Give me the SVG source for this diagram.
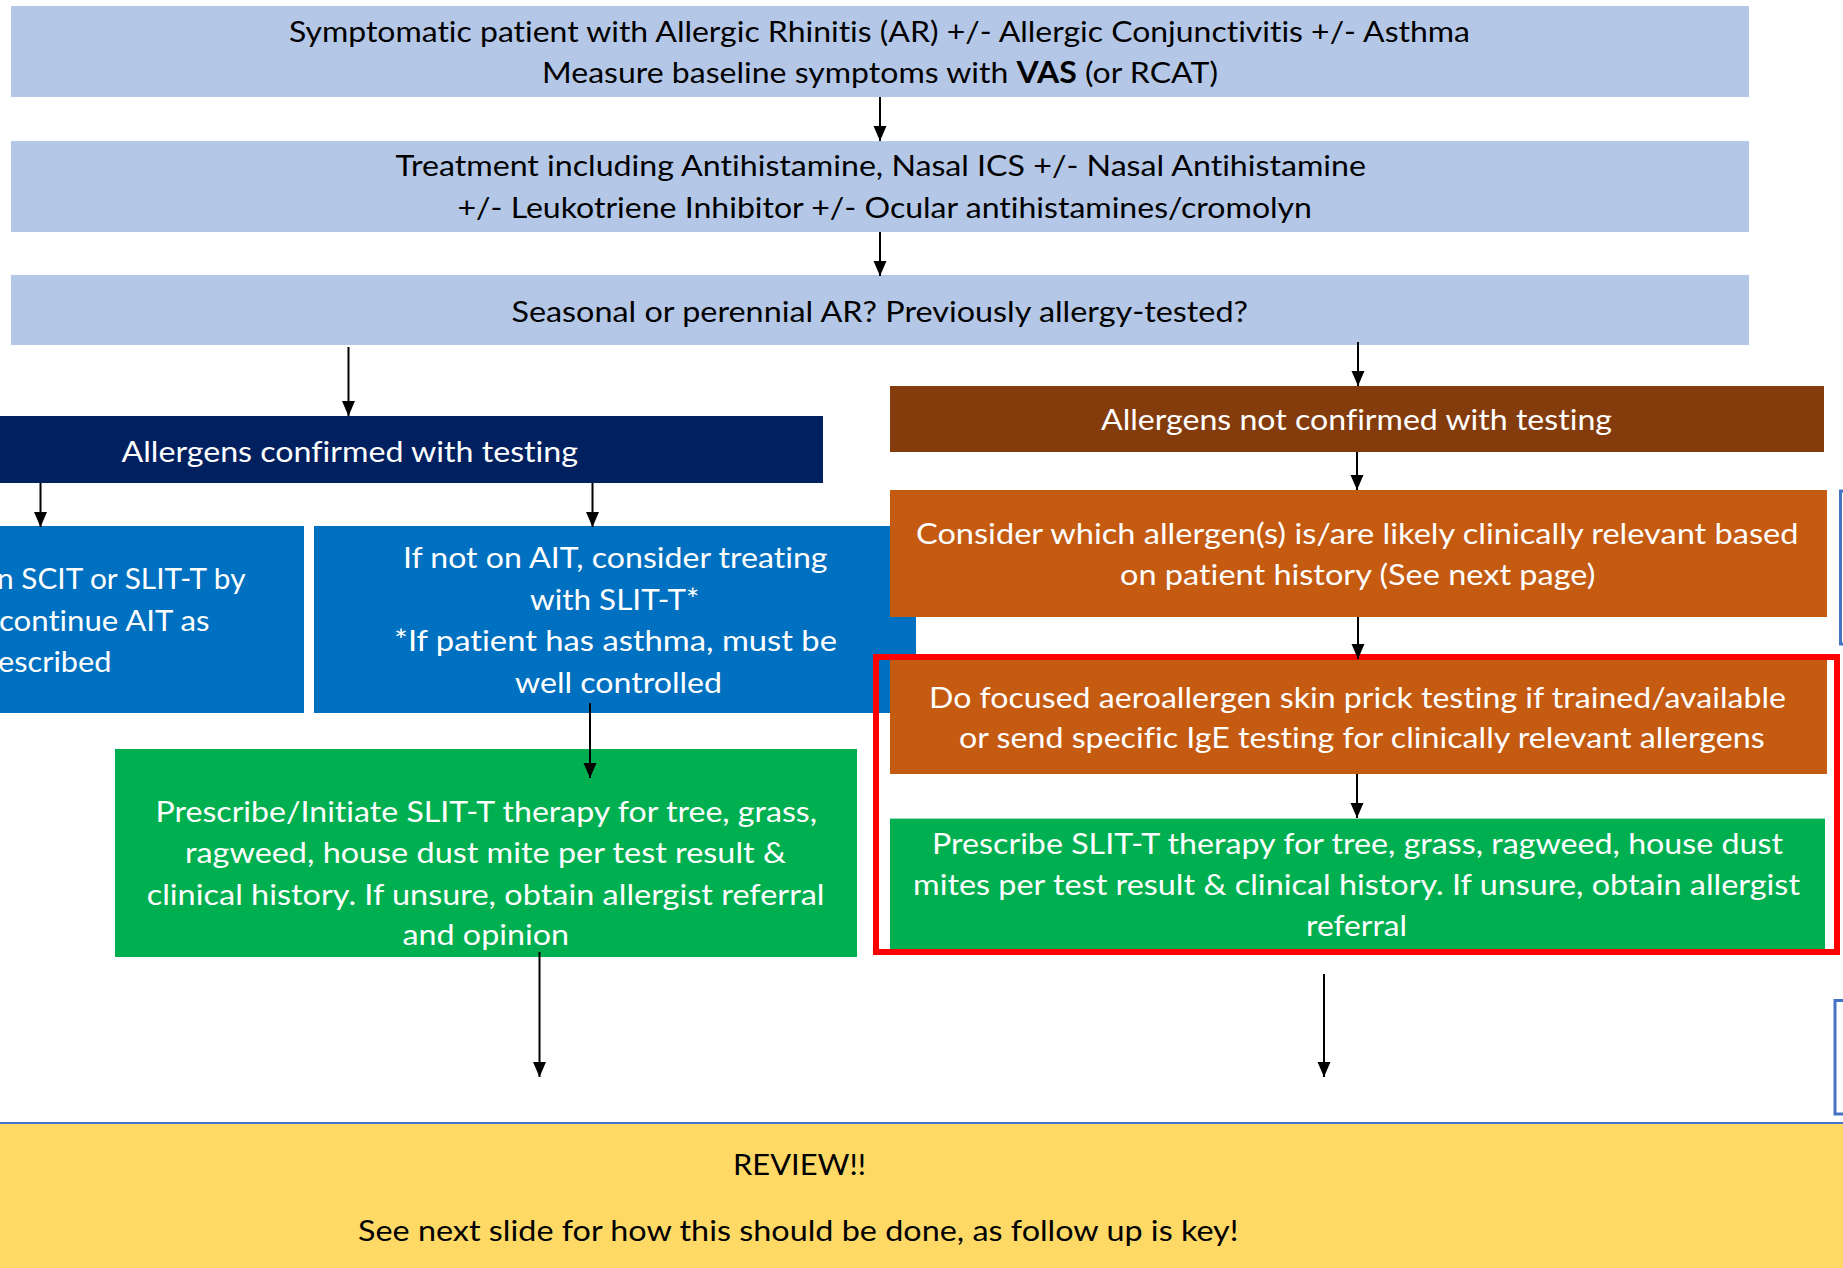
<svg xmlns="http://www.w3.org/2000/svg" width="1843" height="1268" viewBox="0 0 1843 1268">
<style>
text{font-family:Lato,"Open Sans","Liberation Sans",sans-serif;font-size:29.5px;font-variant-ligatures:none}
.w{fill:#ffffff}
.k{fill:#000000}
.lb{fill:#B4C7E7}
.navy{fill:#002060}
.blue{fill:#0070C0}
.brown{fill:#843C0C}
.orange{fill:#C55A11}
.green{fill:#00B050}
.edge{stroke:#000;stroke-width:2;fill:none}
.outl{fill:#ffffff;stroke:#4472C4;stroke-width:3}
</style>
<defs>
<marker id="ah" markerUnits="userSpaceOnUse" markerWidth="16" markerHeight="14" refX="15" refY="6.5" orient="auto">
<path d="M0,0 L15,6.5 L0,13 z" fill="#000"/>
</marker>
</defs>
<rect width="1843" height="1268" fill="#ffffff"/>

<g id="n-start">
<rect class="lb" x="11" y="6" width="1738" height="91"/>
<text class="k" x="289" y="41.7" textLength="1181" lengthAdjust="spacingAndGlyphs">Symptomatic patient with Allergic Rhinitis (AR) +/- Allergic Conjunctivitis +/- Asthma</text>
<text class="k" x="542" y="83" textLength="676" lengthAdjust="spacingAndGlyphs">Measure baseline symptoms with <tspan font-weight="bold">VAS</tspan> (or RCAT)</text>
</g>

<g id="n-treatment">
<rect class="lb" x="11" y="141" width="1738" height="91"/>
<text class="k" x="395.5" y="176" textLength="970.5" lengthAdjust="spacingAndGlyphs">Treatment including Antihistamine, Nasal ICS +/- Nasal Antihistamine</text>
<text class="k" x="457.5" y="218" textLength="854.5" lengthAdjust="spacingAndGlyphs">+/- Leukotriene Inhibitor +/- Ocular antihistamines/cromolyn</text>
</g>

<g id="n-seasonal">
<rect class="lb" x="11" y="275" width="1738" height="70"/>
<text class="k" x="511.5" y="321.7" textLength="736.5" lengthAdjust="spacingAndGlyphs">Seasonal or perennial AR? Previously allergy-tested?</text>
</g>

<g id="n-confirmed">
<rect class="navy" x="-124" y="416" width="947" height="67"/>
<text class="w" x="121.5" y="461.7" textLength="456.5" lengthAdjust="spacingAndGlyphs">Allergens confirmed with testing</text>
</g>

<g id="n-continue">
<rect class="blue" x="-220" y="526" width="524" height="187"/>
<text class="w" x="-3" y="589" textLength="248.5" lengthAdjust="spacingAndGlyphs">n SCIT or SLIT-T by</text>
<text class="w" x="-1" y="630.5" textLength="210.5" lengthAdjust="spacingAndGlyphs">continue AIT as</text>
<text class="w" x="-2" y="672" textLength="113.5" lengthAdjust="spacingAndGlyphs">escribed</text>
</g>

<g id="n-notait">
<rect class="blue" x="314" y="526" width="602" height="187"/>
<text class="w" x="403" y="568" textLength="424.5" lengthAdjust="spacingAndGlyphs">If not on AIT, consider treating</text>
<text class="w" x="530" y="609.5" textLength="169.5" lengthAdjust="spacingAndGlyphs">with SLIT-T*</text>
<text class="w" x="394" y="651" textLength="443" lengthAdjust="spacingAndGlyphs">*If patient has asthma, must be</text>
<text class="w" x="515" y="692.5" textLength="207" lengthAdjust="spacingAndGlyphs">well controlled</text>
</g>

<g id="n-prescribe-left">
<rect class="green" x="115" y="749" width="742" height="208"/>
<text class="w" x="155.5" y="821.7" textLength="661.5" lengthAdjust="spacingAndGlyphs">Prescribe/Initiate SLIT-T therapy for tree, grass,</text>
<text class="w" x="185" y="863" textLength="601" lengthAdjust="spacingAndGlyphs">ragweed, house dust mite per test result &amp;</text>
<text class="w" x="146.7" y="905" textLength="677.8" lengthAdjust="spacingAndGlyphs">clinical history. If unsure, obtain allergist referral</text>
<text class="w" x="402.5" y="945" textLength="166.5" lengthAdjust="spacingAndGlyphs">and opinion</text>
</g>

<g id="n-notconfirmed">
<rect class="brown" x="890" y="386" width="934" height="66"/>
<text class="w" x="1101" y="430" textLength="511" lengthAdjust="spacingAndGlyphs">Allergens not confirmed with testing</text>
</g>

<g id="n-side-top">
<rect class="outl" x="1840.5" y="491" width="20" height="153"/>
</g>

<g id="n-consider">
<rect class="orange" x="890" y="490" width="937" height="127"/>
<text class="w" x="916" y="544" textLength="882.5" lengthAdjust="spacingAndGlyphs">Consider which allergen(s) is/are likely clinically relevant based</text>
<text class="w" x="1120" y="585" textLength="475.4" lengthAdjust="spacingAndGlyphs">on patient history (See next page)</text>
</g>

<g id="n-highlight">
<rect x="876" y="657" width="961" height="295" fill="none" stroke="#FF0000" stroke-width="6"/>
</g>

<g id="n-skintest">
<rect class="orange" x="890" y="660" width="937" height="114"/>
<text class="w" x="929" y="707.5" textLength="857" lengthAdjust="spacingAndGlyphs">Do focused aeroallergen skin prick testing if trained/available</text>
<text class="w" x="959" y="748" textLength="805.7" lengthAdjust="spacingAndGlyphs">or send specific IgE testing for clinically relevant allergens</text>
</g>

<g id="n-prescribe-right">
<rect class="green" x="890" y="818.6" width="935" height="130.4"/>
<text class="w" x="932" y="853.7" textLength="851" lengthAdjust="spacingAndGlyphs">Prescribe SLIT-T therapy for tree, grass, ragweed, house dust</text>
<text class="w" x="913" y="895" textLength="887" lengthAdjust="spacingAndGlyphs">mites per test result &amp; clinical history. If unsure, obtain allergist</text>
<text class="w" x="1306" y="936" textLength="101" lengthAdjust="spacingAndGlyphs">referral</text>
</g>

<g id="n-side-bottom">
<rect class="outl" x="1835" y="1000.5" width="20" height="113.5"/>
</g>

<g id="n-review">
<rect x="-5" y="1123" width="1853" height="160" fill="#FFD966" stroke="#4472C4" stroke-width="2"/>
<text class="k" x="733" y="1175" textLength="133" lengthAdjust="spacingAndGlyphs">REVIEW!!</text>
<text class="k" x="358" y="1240.5" textLength="880.5" lengthAdjust="spacingAndGlyphs">See next slide for how this should be done, as follow up is key!</text>
</g>

<g id="connectors">
<line class="edge" x1="880" y1="97" x2="880" y2="141" marker-end="url(#ah)"/>
<line class="edge" x1="880" y1="232" x2="880" y2="276" marker-end="url(#ah)"/>
<line class="edge" x1="348.5" y1="347" x2="348.5" y2="416" marker-end="url(#ah)"/>
<line class="edge" x1="1358" y1="342" x2="1358" y2="386" marker-end="url(#ah)"/>
<line class="edge" x1="1357" y1="452" x2="1357" y2="490" marker-end="url(#ah)"/>
<line class="edge" x1="1358" y1="617" x2="1358" y2="659" marker-end="url(#ah)"/>
<line class="edge" x1="1357" y1="774" x2="1357" y2="818" marker-end="url(#ah)"/>
<line class="edge" x1="40.5" y1="483" x2="40.5" y2="527" marker-end="url(#ah)"/>
<line class="edge" x1="592.5" y1="483" x2="592.5" y2="527" marker-end="url(#ah)"/>
<line class="edge" x1="590" y1="703" x2="590" y2="778" marker-end="url(#ah)"/>
<line class="edge" x1="539.5" y1="952" x2="539.5" y2="1077" marker-end="url(#ah)" stroke-width="1.5"/>
<line class="edge" x1="1324" y1="974" x2="1324" y2="1077" marker-end="url(#ah)" stroke-width="1.5"/>
</g>
</svg>
